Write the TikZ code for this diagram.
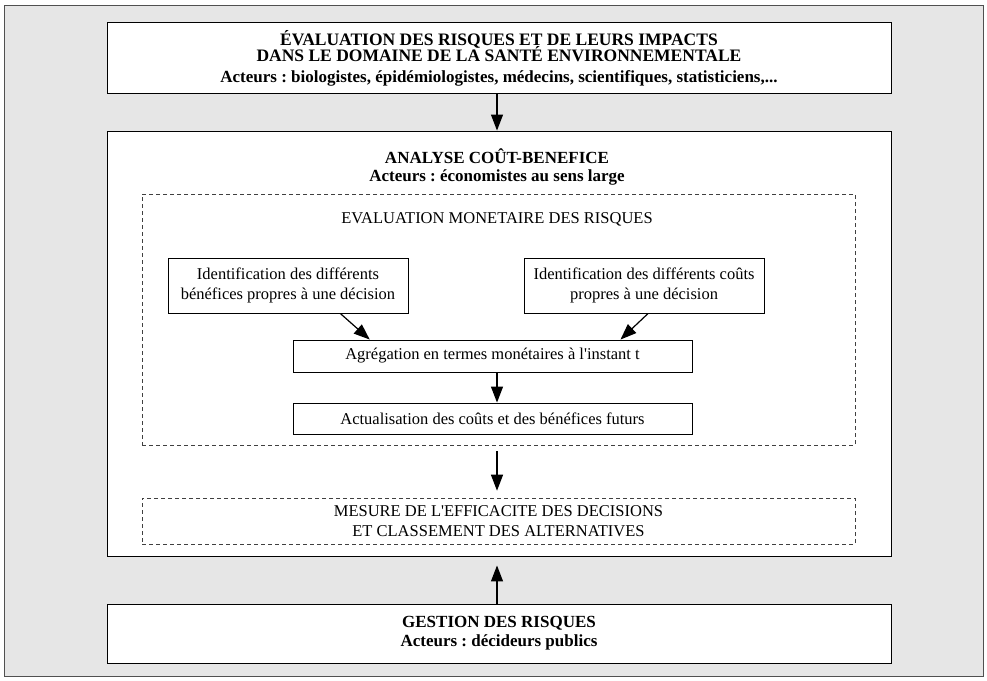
\documentclass[tikz,border=0pt]{standalone}
\usepackage{fontspec}
\setmainfont{Liberation Serif}
\usetikzlibrary{arrows.meta,calc}
\frenchspacing

\definecolor{panelgray}{HTML}{E6E6E6}
\definecolor{framegray}{HTML}{505050}

\tikzset{
  solidbox/.style={draw=black, line width=0.9pt, fill=white, inner sep=0pt},
  dashbox/.style={draw=black!75, line width=0.6pt, dashed, dash pattern=on 4pt off 3pt, inner sep=0pt},
  flow/.style={line width=1.2pt, -{Triangle[length=16pt,width=12pt]}},
  boldtxt/.style={font=\fontsize{17}{19}\selectfont\bfseries, align=center, inner sep=0pt},
  titletxt/.style={font=\fontsize{17.5}{19}\selectfont\bfseries, inner sep=0pt},
  plaintxt/.style={font=\fontsize{16.5}{20}\selectfont, align=center},
}

\begin{document}
\begin{tikzpicture}[x=1pt,y=-1pt]
\useasboundingbox (0,0) rectangle (987,680);

% grey panel
\draw[framegray, line width=1pt, fill=panelgray] (4,5) rectangle (983,676);

% boxes
\node[solidbox, minimum width=784pt, minimum height=71pt] (top) at (499,57.5) {};
\node[solidbox, minimum width=784pt, minimum height=425pt] (ana) at (499,343.5) {};
\node[dashbox, minimum width=713pt, minimum height=251pt] (eval) at (498.5,319.5) {};
\node[solidbox, minimum width=240pt, minimum height=55pt] (idb) at (288,285.5) {};
\node[solidbox, minimum width=240pt, minimum height=55pt] (idc) at (644,285.5) {};
\node[solidbox, minimum width=399pt, minimum height=32pt] (agr) at (492.5,356) {};
\node[solidbox, minimum width=399pt, minimum height=31pt] (act) at (492.5,418.5) {};
\node[dashbox, minimum width=713pt, minimum height=46pt] (mes) at (498.5,521) {};
\node[solidbox, minimum width=784pt, minimum height=59pt] (ges) at (499,633.5) {};

% texts
\node[titletxt, anchor=base] (t1) at (499,45) {ÉVALUATION DES RISQUES ET DE LEURS IMPACTS};
\node[titletxt, anchor=base] (t1b) at (499,61.5) {DANS LE DOMAINE DE LA SANTÉ ENVIRONNEMENTALE};
\node[boldtxt, anchor=base] (t2) at (499,82) {Acteurs : biologistes, épidémiologistes, médecins, scientifiques, statisticiens,...};
\node[boldtxt] (a1) at (497,156) {ANALYSE COÛT-BENEFICE};
\node[boldtxt] (a2) at (497,177) {Acteurs : économistes au sens large};
\node[plaintxt] (e1) at (497,219) {EVALUATION MONETAIRE DES RISQUES};
\node[plaintxt] (b1) at (idb.center) {Identification des différents\\bénéfices propres à une décision};
\node[plaintxt] (c1) at (idc.center) {Identification des différents coûts\\propres à une décision};
\node[plaintxt] (g1) at (agr.center) {Agrégation en termes monétaires à l\textquotesingle instant t};
\node[plaintxt] (u1) at (act.center) {Actualisation des coûts et des bénéfices futurs};
\node[plaintxt] (m1) at (mes.center) {MESURE DE L\textquotesingle EFFICACITE DES DECISIONS\\ET CLASSEMENT DES ALTERNATIVES};
\node[boldtxt] (s1) at (ges.center) {GESTION DES RISQUES\\Acteurs : décideurs publics};

% connectors
\draw[flow] (top.south -| 497,0) -- (ana.north -| 497,0);
\draw[flow] ($(idb.south west)!0.717!(idb.south east)$) -- ($(agr.north west)!0.193!(agr.north east)$);
\draw[flow] ($(idc.south west)!0.517!(idc.south east)$) -- ($(agr.north west)!0.82!(agr.north east)$);
\draw[flow] (agr.south -| 497,0) -- (act.north -| 497,0);
\draw[flow, shorten <=6pt, shorten >=7pt] (eval.south -| 497,0) -- (mes.north -| 497,0);
\draw[flow, shorten >=9pt] (ges.north -| 497,0) -- (ana.south -| 497,0);
\end{tikzpicture}
\end{document}
